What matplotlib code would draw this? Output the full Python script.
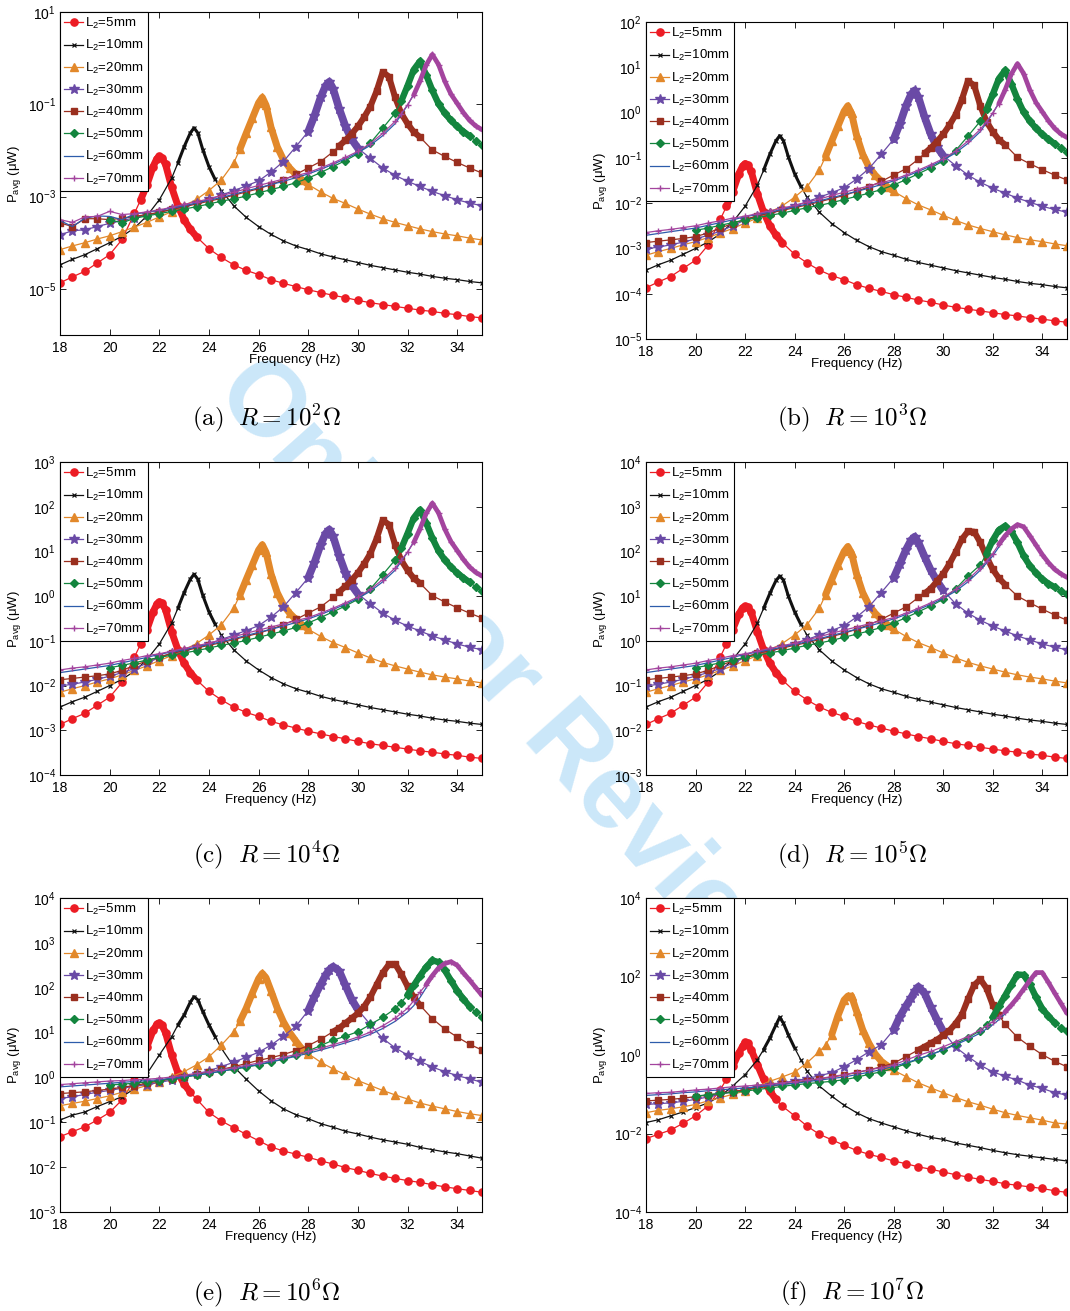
import numpy as np
import matplotlib
matplotlib.use("Agg")
import matplotlib.pyplot as plt
from matplotlib.ticker import FixedLocator, NullLocator, LogFormatterMathtext

plt.rcParams["font.family"] = ["Liberation Sans", "DejaVu Sans"]
plt.rcParams["mathtext.fontset"] = "custom"
plt.rcParams["mathtext.rm"] = "Liberation Sans"
plt.rcParams["mathtext.it"] = "Liberation Sans:italic"
plt.rcParams["mathtext.bf"] = "Liberation Sans:bold"

# frequency samples (Hz) of each L2 curve; denser around its resonance
FREQ_5 = [18, 18.5, 19, 19.5, 20, 20.5, 21, 21.25, 21.5, 21.75, 21.9, 22, 22.1, 22.25, 22.5, 22.75,
          23, 23.25, 23.5, 24, 24.5, 25, 25.5, 26, 26.5, 27, 27.5, 28, 28.5, 29, 29.5, 30, 30.5,
          31, 31.5, 32, 32.5, 33, 33.5, 34, 34.5, 35]
FREQ_10 = [18, 18.5, 19, 19.5, 20, 20.5, 21, 21.5, 22, 22.5, 22.75, 23, 23.25, 23.4, 23.55, 23.75,
           24, 24.25, 24.5, 25, 25.5, 26, 26.5, 27, 27.5, 28, 28.5, 29, 29.5, 30, 30.5, 31, 31.5,
           32, 32.5, 33, 33.5, 34, 34.5, 35]
FREQ_20 = [18, 18.5, 19, 19.5, 20, 20.5, 21, 21.5, 22, 22.5, 23, 23.5, 24, 24.5, 25, 25.25, 25.5,
           25.75, 26, 26.15, 26.3, 26.5, 26.75, 27, 27.25, 27.5, 27.75, 28, 28.5, 29, 29.5, 30,
           30.5, 31, 31.5, 32, 32.5, 33, 33.5, 34, 34.5, 35]
FREQ_30 = [18, 18.5, 19, 19.5, 20, 20.5, 21, 21.5, 22, 22.5, 23, 23.5, 24, 24.5, 25, 25.5, 26,
           26.5, 27, 27.5, 28, 28.25, 28.5, 28.7, 28.85, 29, 29.25, 29.5, 29.75, 30, 30.5, 31,
           31.5, 32, 32.5, 33, 33.5, 34, 34.5, 35]
FREQ_40 = [18, 18.5, 19, 19.5, 20, 20.5, 21, 21.5, 22, 22.5, 23, 23.5, 24, 24.5, 25, 25.5, 26,
           26.5, 27, 27.5, 28, 28.5, 29, 29.25, 29.5, 29.75, 30, 30.25, 30.5, 30.75, 31, 31.25,
           31.5, 31.75, 32, 32.25, 32.5, 33, 33.5, 34, 34.5, 35]
FREQ_50 = [20, 20.5, 21, 21.5, 22, 22.5, 23, 23.5, 24, 24.5, 25, 25.5, 26, 26.5, 27, 27.5, 28,
           28.5, 29, 29.5, 30, 30.5, 31, 31.5, 31.75, 32, 32.25, 32.5, 32.75, 33, 33.25, 33.5,
           33.75, 34, 34.25, 34.5, 34.75, 35]
FREQ_60 = [18, 18.5, 19, 19.5, 20, 20.5, 21, 21.5, 22, 22.5, 23, 23.5, 24, 24.5, 25, 25.5, 26,
           26.5, 27, 27.5, 28, 28.5, 29, 29.5, 30, 30.5, 31, 31.5, 32, 32.25, 32.5, 32.75, 33,
           33.25, 33.5, 33.75, 34, 34.5, 35]
FREQ_70 = [18, 18.5, 19, 19.5, 20, 20.5, 21, 21.5, 22, 22.5, 23, 23.5, 24, 24.5, 25, 25.5, 26,
           26.5, 27, 27.5, 28, 28.5, 29, 29.5, 30, 30.5, 31, 31.5, 31.75, 32, 32.25, 32.5, 32.75,
           33, 33.25, 33.5, 33.75, 34, 34.25, 34.5, 34.75, 35]

# log10 of P_avg (uW)
# (a) R = 1e2
PA_5 = [-4.87, -4.74, -4.62, -4.44, -4.26, -3.93, -3.36, -3.07, -2.75, -2.35, -2.18, -2.13, -2.16, -2.3,
        -2.8, -3.2, -3.5, -3.71, -3.87, -4.13, -4.32, -4.48, -4.6, -4.69, -4.8, -4.88, -4.95, -5.02,
        -5.08, -5.14, -5.19, -5.25, -5.3, -5.34, -5.38, -5.42, -5.46, -5.49, -5.53, -5.56, -5.6, -5.63]
PA_10 = [-4.48, -4.36, -4.26, -4.13, -4.0, -3.86, -3.68, -3.42, -3.07, -2.6, -2.27, -1.92, -1.62, -1.51,
         -1.62, -1.98, -2.35, -2.63, -2.87, -3.2, -3.45, -3.65, -3.82, -3.96, -4.07, -4.15, -4.24,
         -4.31, -4.37, -4.43, -4.49, -4.54, -4.59, -4.64, -4.68, -4.73, -4.77, -4.8, -4.84, -4.87]
PA_20 = [-4.15, -4.07, -4.0, -3.92, -3.85, -3.76, -3.66, -3.56, -3.44, -3.33, -3.2, -3.06, -2.87, -2.64,
         -2.27, -1.97, -1.63, -1.3, -0.97, -0.85, -1.02, -1.5, -1.92, -2.2, -2.38, -2.52, -2.64, -2.74,
         -2.9, -3.04, -3.15, -3.27, -3.38, -3.48, -3.56, -3.63, -3.7, -3.76, -3.81, -3.85, -3.9, -3.94]
PA_30 = [-3.83, -3.74, -3.72, -3.65, -3.58, -3.52, -3.46, -3.4, -3.34, -3.28, -3.22, -3.14, -3.06, -2.97,
         -2.87, -2.77, -2.66, -2.47, -2.24, -1.92, -1.59, -1.25, -0.85, -0.6, -0.51, -0.66, -1.1, -1.48,
         -1.76, -1.95, -2.17, -2.38, -2.54, -2.67, -2.78, -2.89, -2.98, -3.07, -3.14, -3.2]
PA_40 = [-3.57, -3.65, -3.48, -3.48, -3.5, -3.47, -3.43, -3.39, -3.34, -3.28, -3.22, -3.16, -3.1, -3.04,
         -2.97, -2.9, -2.83, -2.74, -2.64, -2.52, -2.38, -2.24, -2.03, -1.9, -1.78, -1.64, -1.48, -1.28,
         -1.05, -0.72, -0.3, -0.4, -0.85, -1.2, -1.42, -1.6, -1.71, -1.99, -2.13, -2.26, -2.38, -2.49]
PA_50 = [-3.5, -3.57, -3.47, -3.42, -3.37, -3.32, -3.27, -3.22, -3.16, -3.1, -3.05, -2.99, -2.92, -2.85,
         -2.78, -2.7, -2.6, -2.48, -2.35, -2.22, -2.07, -1.84, -1.52, -1.19, -0.93, -0.6, -0.25, -0.07,
         -0.36, -0.7, -0.99, -1.19, -1.35, -1.48, -1.59, -1.69, -1.79, -1.88]
PA_60 = [-3.52, -3.65, -3.47, -3.42, -3.43, -3.5, -3.38, -3.34, -3.3, -3.25, -3.2, -3.14, -3.08, -3.02,
         -2.95, -2.88, -2.81, -2.74, -2.67, -2.59, -2.51, -2.41, -2.3, -2.18, -2.05, -1.89, -1.68, -1.42,
         -1.02, -0.78, -0.52, -0.22, 0.04, -0.17, -0.52, -0.8, -1.0, -1.37, -1.57]
PA_70 = [-3.5, -3.56, -3.44, -3.43, -3.32, -3.39, -3.37, -3.33, -3.29, -3.23, -3.17, -3.11, -3.05, -2.98,
         -2.91, -2.83, -2.76, -2.69, -2.62, -2.55, -2.48, -2.38, -2.27, -2.15, -2.02, -1.85, -1.63, -1.37,
         -1.2, -1.01, -0.8, -0.5, -0.15, 0.08, -0.14, -0.5, -0.78, -0.98, -1.18, -1.35, -1.47, -1.55]

# (b) R = 1e3
PB_5 = [-3.87, -3.74, -3.62, -3.44, -3.26, -2.93, -2.36, -2.07, -1.75, -1.35, -1.18, -1.13, -1.16, -1.3,
        -1.8, -2.2, -2.5, -2.71, -2.87, -3.13, -3.32, -3.48, -3.6, -3.69, -3.8, -3.88, -3.95, -4.02,
        -4.08, -4.14, -4.19, -4.25, -4.3, -4.34, -4.38, -4.42, -4.46, -4.49, -4.53, -4.56, -4.6, -4.63]
PB_10 = [-3.48, -3.36, -3.26, -3.13, -3.0, -2.86, -2.68, -2.42, -2.07, -1.6, -1.27, -0.92, -0.62, -0.51,
         -0.62, -0.98, -1.35, -1.63, -1.87, -2.2, -2.45, -2.65, -2.82, -2.96, -3.07, -3.15, -3.24,
         -3.31, -3.37, -3.43, -3.49, -3.54, -3.59, -3.64, -3.68, -3.73, -3.77, -3.8, -3.84, -3.87]
PB_20 = [-3.15, -3.07, -3.0, -2.92, -2.85, -2.76, -2.66, -2.56, -2.44, -2.33, -2.2, -2.06, -1.87, -1.64,
         -1.27, -0.97, -0.63, -0.3, 0.03, 0.15, -0.02, -0.5, -0.92, -1.2, -1.38, -1.52, -1.64, -1.74,
         -1.9, -2.04, -2.15, -2.27, -2.38, -2.48, -2.56, -2.63, -2.7, -2.76, -2.81, -2.85, -2.9, -2.94]
PB_30 = [-3.01, -2.97, -2.92, -2.86, -2.79, -2.71, -2.62, -2.5, -2.37, -2.28, -2.22, -2.14, -2.06, -1.97,
         -1.87, -1.77, -1.66, -1.47, -1.24, -0.92, -0.59, -0.25, 0.15, 0.4, 0.49, 0.34, -0.1, -0.48,
         -0.76, -0.95, -1.17, -1.38, -1.54, -1.67, -1.78, -1.89, -1.98, -2.07, -2.14, -2.2]
PB_40 = [-2.87, -2.84, -2.81, -2.78, -2.74, -2.66, -2.55, -2.45, -2.36, -2.28, -2.22, -2.16, -2.1, -2.04,
         -1.97, -1.9, -1.83, -1.74, -1.64, -1.52, -1.38, -1.24, -1.03, -0.9, -0.78, -0.64, -0.48, -0.28,
         -0.05, 0.28, 0.7, 0.6, 0.15, -0.2, -0.42, -0.6, -0.71, -0.99, -1.13, -1.26, -1.38, -1.49]
PB_50 = [-2.6, -2.55, -2.49, -2.43, -2.37, -2.32, -2.27, -2.22, -2.16, -2.1, -2.05, -1.99, -1.92, -1.85,
         -1.78, -1.7, -1.6, -1.48, -1.35, -1.22, -1.07, -0.84, -0.52, -0.19, 0.07, 0.4, 0.75, 0.93,
         0.64, 0.3, 0.01, -0.19, -0.35, -0.48, -0.59, -0.69, -0.79, -0.88]
PB_60 = [-2.71, -2.67, -2.63, -2.59, -2.55, -2.49, -2.43, -2.37, -2.3, -2.25, -2.2, -2.14, -2.08, -2.02,
         -1.95, -1.88, -1.81, -1.74, -1.67, -1.59, -1.51, -1.41, -1.3, -1.18, -1.05, -0.89, -0.68, -0.42,
         -0.02, 0.22, 0.48, 0.78, 1.04, 0.83, 0.48, 0.2, 0.0, -0.37, -0.57]
PB_70 = [-2.65, -2.61, -2.58, -2.54, -2.5, -2.44, -2.39, -2.33, -2.29, -2.23, -2.17, -2.11, -2.05, -1.98,
         -1.91, -1.83, -1.76, -1.69, -1.62, -1.55, -1.48, -1.38, -1.27, -1.15, -1.02, -0.85, -0.63, -0.37,
         -0.2, -0.01, 0.2, 0.5, 0.85, 1.08, 0.86, 0.5, 0.22, 0.02, -0.18, -0.35, -0.47, -0.55]

# (c) R = 1e4
PC_5 = [-2.87, -2.74, -2.62, -2.44, -2.26, -1.93, -1.36, -1.07, -0.75, -0.35, -0.18, -0.13, -0.16, -0.3,
        -0.8, -1.2, -1.5, -1.71, -1.87, -2.13, -2.32, -2.48, -2.6, -2.69, -2.8, -2.88, -2.95, -3.02,
        -3.08, -3.14, -3.19, -3.25, -3.3, -3.34, -3.38, -3.42, -3.46, -3.49, -3.53, -3.56, -3.6, -3.63]
PC_10 = [-2.48, -2.36, -2.26, -2.13, -2.0, -1.86, -1.68, -1.42, -1.07, -0.6, -0.27, 0.08, 0.38, 0.49,
         0.38, 0.02, -0.35, -0.63, -0.87, -1.2, -1.45, -1.65, -1.82, -1.96, -2.07, -2.15, -2.24,
         -2.31, -2.37, -2.43, -2.49, -2.54, -2.59, -2.64, -2.68, -2.73, -2.77, -2.8, -2.84, -2.87]
PC_20 = [-2.15, -2.07, -2.0, -1.92, -1.85, -1.76, -1.66, -1.56, -1.44, -1.33, -1.2, -1.06, -0.87, -0.64,
         -0.27, 0.03, 0.37, 0.7, 1.03, 1.15, 0.98, 0.5, 0.08, -0.2, -0.38, -0.52, -0.64, -0.74,
         -0.9, -1.04, -1.15, -1.27, -1.38, -1.48, -1.56, -1.63, -1.7, -1.76, -1.81, -1.85, -1.9, -1.94]
PC_30 = [-2.01, -1.97, -1.92, -1.86, -1.79, -1.71, -1.62, -1.5, -1.37, -1.28, -1.22, -1.14, -1.06, -0.97,
         -0.87, -0.77, -0.66, -0.47, -0.24, 0.08, 0.41, 0.75, 1.15, 1.4, 1.49, 1.34, 0.9, 0.52,
         0.24, 0.05, -0.17, -0.38, -0.54, -0.67, -0.78, -0.89, -0.98, -1.07, -1.14, -1.2]
PC_40 = [-1.87, -1.84, -1.81, -1.78, -1.74, -1.66, -1.55, -1.45, -1.36, -1.28, -1.22, -1.16, -1.1, -1.04,
         -0.97, -0.9, -0.83, -0.74, -0.64, -0.52, -0.38, -0.24, -0.03, 0.1, 0.22, 0.36, 0.52, 0.72,
         0.95, 1.28, 1.7, 1.6, 1.15, 0.8, 0.58, 0.4, 0.29, 0.01, -0.13, -0.26, -0.38, -0.49]
PC_50 = [-1.6, -1.55, -1.49, -1.43, -1.37, -1.32, -1.27, -1.22, -1.16, -1.1, -1.05, -0.99, -0.92, -0.85,
         -0.78, -0.7, -0.6, -0.48, -0.35, -0.22, -0.07, 0.16, 0.48, 0.81, 1.07, 1.4, 1.75, 1.93,
         1.64, 1.3, 1.01, 0.81, 0.65, 0.52, 0.41, 0.31, 0.21, 0.12]
PC_60 = [-1.71, -1.67, -1.63, -1.59, -1.55, -1.49, -1.43, -1.37, -1.3, -1.25, -1.2, -1.14, -1.08, -1.02,
         -0.95, -0.88, -0.81, -0.74, -0.67, -0.59, -0.51, -0.41, -0.3, -0.18, -0.05, 0.11, 0.32, 0.58,
         0.98, 1.22, 1.48, 1.78, 2.04, 1.83, 1.48, 1.2, 1.0, 0.63, 0.43]
PC_70 = [-1.65, -1.61, -1.58, -1.54, -1.5, -1.44, -1.39, -1.33, -1.29, -1.23, -1.17, -1.11, -1.05, -0.98,
         -0.91, -0.83, -0.76, -0.69, -0.62, -0.55, -0.48, -0.38, -0.27, -0.15, -0.02, 0.15, 0.37, 0.63,
         0.8, 0.99, 1.2, 1.5, 1.85, 2.08, 1.86, 1.5, 1.22, 1.02, 0.82, 0.65, 0.53, 0.45]

# (d) R = 1e5
PD_5 = [-1.87, -1.74, -1.62, -1.44, -1.26, -0.93, -0.36, -0.07, 0.25, 0.6, 0.74, 0.77, 0.75, 0.64,
        0.2, -0.2, -0.5, -0.71, -0.87, -1.13, -1.32, -1.48, -1.6, -1.69, -1.8, -1.88, -1.95, -2.02,
        -2.08, -2.14, -2.19, -2.25, -2.3, -2.34, -2.38, -2.42, -2.46, -2.49, -2.53, -2.56, -2.6, -2.63]
PD_10 = [-1.48, -1.36, -1.26, -1.13, -1.0, -0.86, -0.68, -0.42, -0.07, 0.4, 0.73, 1.06, 1.35, 1.45,
         1.36, 1.0, 0.65, 0.37, 0.13, -0.2, -0.45, -0.65, -0.82, -0.96, -1.07, -1.15, -1.24,
         -1.31, -1.37, -1.43, -1.49, -1.54, -1.59, -1.64, -1.68, -1.73, -1.77, -1.8, -1.84, -1.87]
PD_20 = [-1.15, -1.07, -1.0, -0.92, -0.85, -0.76, -0.66, -0.56, -0.44, -0.33, -0.2, -0.06, 0.13, 0.36,
         0.73, 1.03, 1.37, 1.7, 2.0, 2.11, 1.96, 1.5, 1.08, 0.8, 0.62, 0.48, 0.36, 0.26,
         0.1, -0.04, -0.15, -0.27, -0.38, -0.48, -0.56, -0.63, -0.7, -0.76, -0.81, -0.85, -0.9, -0.94]
PD_30 = [-1.01, -0.97, -0.92, -0.86, -0.79, -0.71, -0.62, -0.5, -0.37, -0.28, -0.22, -0.14, -0.06, 0.03,
         0.13, 0.23, 0.34, 0.53, 0.76, 1.08, 1.41, 1.72, 2.04, 2.25, 2.33, 2.2, 1.88, 1.58,
         1.34, 1.13, 0.83, 0.62, 0.46, 0.33, 0.22, 0.11, 0.02, -0.07, -0.14, -0.2]
PD_40 = [-0.87, -0.84, -0.81, -0.78, -0.74, -0.66, -0.55, -0.45, -0.36, -0.28, -0.22, -0.16, -0.1, -0.04,
         0.03, 0.1, 0.17, 0.26, 0.36, 0.48, 0.62, 0.76, 0.97, 1.06, 1.17, 1.33, 1.5, 1.72,
         1.98, 2.27, 2.45, 2.44, 2.2, 1.88, 1.6, 1.4, 1.26, 1.0, 0.85, 0.71, 0.58, 0.46]
PD_50 = [-0.6, -0.55, -0.49, -0.43, -0.37, -0.32, -0.27, -0.22, -0.16, -0.1, -0.05, 0.01, 0.08, 0.15,
         0.22, 0.3, 0.4, 0.52, 0.65, 0.78, 0.93, 1.16, 1.45, 1.7, 1.95, 2.25, 2.48, 2.57,
         2.45, 2.2, 1.9, 1.68, 1.52, 1.38, 1.28, 1.2, 1.12, 1.05]
PD_60 = [-0.71, -0.67, -0.63, -0.59, -0.55, -0.49, -0.43, -0.37, -0.3, -0.25, -0.2, -0.14, -0.08, -0.02,
         0.05, 0.12, 0.19, 0.26, 0.33, 0.41, 0.49, 0.59, 0.7, 0.82, 0.95, 1.11, 1.32, 1.58,
         1.9, 2.1, 2.3, 2.47, 2.58, 2.54, 2.35, 2.13, 1.93, 1.6, 1.42]
PD_70 = [-0.65, -0.61, -0.58, -0.54, -0.5, -0.44, -0.39, -0.33, -0.29, -0.23, -0.17, -0.11, -0.05, 0.02,
         0.09, 0.17, 0.24, 0.31, 0.38, 0.45, 0.52, 0.62, 0.73, 0.85, 0.98, 1.15, 1.37, 1.63,
         1.78, 1.95, 2.16, 2.35, 2.5, 2.6, 2.55, 2.35, 2.14, 1.93, 1.75, 1.6, 1.5, 1.42]

# (e) R = 1e6
PE_5 = [-1.32, -1.21, -1.1, -0.95, -0.78, -0.5, -0.05, 0.28, 0.68, 1.05, 1.18, 1.21, 1.17, 1.0,
        0.5, 0.1, -0.15, -0.33, -0.48, -0.78, -0.97, -1.12, -1.27, -1.41, -1.55, -1.64, -1.71, -1.78,
        -1.86, -1.93, -2.01, -2.07, -2.14, -2.2, -2.25, -2.3, -2.34, -2.39, -2.44, -2.48, -2.52, -2.56]
PE_10 = [-0.95, -0.84, -0.77, -0.65, -0.54, -0.43, -0.25, 0.08, 0.5, 0.91, 1.17, 1.39, 1.68, 1.8,
         1.73, 1.47, 1.17, 0.91, 0.65, 0.24, -0.04, -0.3, -0.52, -0.7, -0.83, -0.92, -1.03,
         -1.11, -1.2, -1.26, -1.33, -1.39, -1.44, -1.49, -1.56, -1.61, -1.66, -1.7, -1.75, -1.8]
PE_20 = [-0.63, -0.58, -0.53, -0.47, -0.41, -0.33, -0.26, -0.18, -0.1, 0.02, 0.13, 0.28, 0.46, 0.72,
         1.02, 1.25, 1.54, 1.88, 2.2, 2.32, 2.22, 1.93, 1.55, 1.24, 1.0, 0.81, 0.63, 0.53,
         0.34, 0.19, 0.06, -0.07, -0.18, -0.29, -0.39, -0.48, -0.57, -0.64, -0.7, -0.76, -0.81, -0.85]
PE_30 = [-0.47, -0.43, -0.38, -0.33, -0.29, -0.24, -0.2, -0.16, -0.11, -0.06, 0.0, 0.07, 0.15, 0.24,
         0.34, 0.45, 0.56, 0.72, 0.92, 1.14, 1.49, 1.8, 2.07, 2.28, 2.4, 2.47, 2.37, 2.05,
         1.74, 1.51, 1.18, 0.87, 0.66, 0.5, 0.36, 0.23, 0.13, 0.04, -0.03, -0.11]
PE_40 = [-0.36, -0.34, -0.32, -0.29, -0.26, -0.22, -0.18, -0.13, -0.08, -0.03, 0.02, 0.07, 0.12, 0.18,
         0.24, 0.31, 0.38, 0.44, 0.51, 0.6, 0.71, 0.85, 1.02, 1.1, 1.21, 1.32, 1.43, 1.58,
         1.79, 2.06, 2.33, 2.52, 2.53, 2.3, 2.03, 1.79, 1.61, 1.31, 1.08, 0.9, 0.74, 0.61]
PE_50 = [-0.17, -0.15, -0.13, -0.1, -0.07, -0.03, 0.01, 0.05, 0.09, 0.14, 0.18, 0.23, 0.28, 0.34,
         0.41, 0.49, 0.59, 0.71, 0.83, 0.92, 1.02, 1.18, 1.34, 1.53, 1.67, 1.84, 2.05, 2.26,
         2.46, 2.61, 2.57, 2.39, 2.16, 1.93, 1.75, 1.58, 1.45, 1.34]
PE_60 = [-0.21, -0.19, -0.17, -0.15, -0.13, -0.11, -0.09, -0.07, -0.05, -0.02, 0.02, 0.05, 0.09, 0.14,
         0.19, 0.24, 0.29, 0.35, 0.41, 0.47, 0.54, 0.61, 0.69, 0.77, 0.86, 0.96, 1.09, 1.25,
         1.46, 1.6, 1.78, 2.0, 2.24, 2.42, 2.53, 2.56, 2.5, 2.2, 1.82]
PE_70 = [-0.16, -0.14, -0.12, -0.1, -0.08, -0.07, -0.05, -0.04, -0.02, 0.01, 0.05, 0.09, 0.13, 0.17,
         0.22, 0.27, 0.32, 0.38, 0.45, 0.51, 0.58, 0.65, 0.73, 0.81, 0.9, 1.01, 1.15, 1.32,
         1.43, 1.54, 1.71, 1.9, 2.07, 2.27, 2.44, 2.54, 2.58, 2.5, 2.33, 2.17, 2.0, 1.83]

# (f) R = 1e7
PF_5 = [-2.13, -2.02, -1.91, -1.74, -1.55, -1.3, -0.88, -0.62, -0.29, 0.05, 0.22, 0.32, 0.3, 0.13,
        -0.25, -0.62, -0.92, -1.13, -1.3, -1.55, -1.81, -2.02, -2.16, -2.3, -2.43, -2.53, -2.61, -2.7,
        -2.77, -2.85, -2.91, -2.98, -3.05, -3.11, -3.17, -3.22, -3.28, -3.32, -3.36, -3.4, -3.46, -3.5]
PF_10 = [-1.72, -1.65, -1.55, -1.45, -1.34, -1.22, -1.05, -0.79, -0.5, -0.12, 0.14, 0.43, 0.77, 0.96,
         0.81, 0.51, 0.18, -0.12, -0.41, -0.79, -1.05, -1.28, -1.47, -1.62, -1.73, -1.83, -1.93,
         -2.02, -2.1, -2.15, -2.24, -2.3, -2.36, -2.43, -2.49, -2.54, -2.58, -2.62, -2.66, -2.7]
PF_20 = [-1.47, -1.41, -1.37, -1.32, -1.26, -1.17, -1.09, -1.0, -0.92, -0.8, -0.67, -0.56, -0.44, -0.2,
         0.09, 0.25, 0.52, 1.0, 1.4, 1.5, 1.5, 1.12, 0.64, 0.3, 0.03, -0.16, -0.28, -0.39,
         -0.55, -0.71, -0.84, -0.96, -1.08, -1.19, -1.28, -1.38, -1.47, -1.54, -1.6, -1.66, -1.73, -1.76]
PF_30 = [-1.26, -1.24, -1.22, -1.18, -1.13, -1.07, -1.0, -0.94, -0.88, -0.82, -0.76, -0.71, -0.66, -0.6,
         -0.53, -0.45, -0.3, -0.12, 0.08, 0.26, 0.64, 0.98, 1.25, 1.45, 1.62, 1.74, 1.57, 1.22,
         0.9, 0.6, 0.2, -0.04, -0.26, -0.43, -0.54, -0.64, -0.77, -0.85, -0.96, -1.02]
PF_40 = [-1.17, -1.15, -1.13, -1.1, -1.06, -1.02, -0.98, -0.93, -0.89, -0.84, -0.8, -0.75, -0.71, -0.66,
         -0.61, -0.56, -0.51, -0.45, -0.38, -0.3, -0.21, -0.04, 0.13, 0.21, 0.3, 0.39, 0.5, 0.62,
         0.8, 1.02, 1.42, 1.78, 1.93, 1.7, 1.28, 1.02, 0.78, 0.45, 0.22, 0.01, -0.16, -0.3]
PF_50 = [-1.05, -1.01, -0.98, -0.95, -0.92, -0.88, -0.84, -0.8, -0.76, -0.73, -0.7, -0.67, -0.63, -0.57,
         -0.49, -0.43, -0.34, -0.22, -0.11, 0.01, 0.13, 0.29, 0.44, 0.62, 0.76, 0.96, 1.24, 1.51,
         1.79, 2.05, 2.04, 1.8, 1.47, 1.18, 0.99, 0.82, 0.7, 0.6]
PF_60 = [-1.03, -1.01, -0.99, -0.96, -0.94, -0.91, -0.89, -0.86, -0.84, -0.81, -0.78, -0.75, -0.72, -0.68,
         -0.64, -0.6, -0.56, -0.5, -0.44, -0.37, -0.29, -0.2, -0.1, 0.01, 0.13, 0.26, 0.4, 0.56,
         0.77, 0.9, 1.05, 1.22, 1.42, 1.64, 1.85, 2.04, 2.1, 1.6, 1.06]
PF_70 = [-0.98, -0.96, -0.95, -0.92, -0.89, -0.87, -0.84, -0.81, -0.79, -0.77, -0.74, -0.71, -0.68, -0.64,
         -0.6, -0.55, -0.5, -0.44, -0.38, -0.32, -0.25, -0.13, -0.01, 0.09, 0.21, 0.34, 0.47, 0.64,
         0.74, 0.85, 0.96, 1.1, 1.27, 1.46, 1.68, 1.9, 2.1, 2.1, 1.85, 1.58, 1.32, 1.06]

LABELS = ["L$_2$=5mm", "L$_2$=10mm", "L$_2$=20mm", "L$_2$=30mm",
          "L$_2$=40mm", "L$_2$=50mm", "L$_2$=60mm", "L$_2$=70mm"]
FREQS = [FREQ_5, FREQ_10, FREQ_20, FREQ_30, FREQ_40, FREQ_50, FREQ_60, FREQ_70]
PANEL_DATA = {
    "a": [PA_5, PA_10, PA_20, PA_30, PA_40, PA_50, PA_60, PA_70],
    "b": [PB_5, PB_10, PB_20, PB_30, PB_40, PB_50, PB_60, PB_70],
    "c": [PC_5, PC_10, PC_20, PC_30, PC_40, PC_50, PC_60, PC_70],
    "d": [PD_5, PD_10, PD_20, PD_30, PD_40, PD_50, PD_60, PD_70],
    "e": [PE_5, PE_10, PE_20, PE_30, PE_40, PE_50, PE_60, PE_70],
    "f": [PF_5, PF_10, PF_20, PF_30, PF_40, PF_50, PF_60, PF_70],
}
R_EXP = {"a": 2, "b": 3, "c": 4, "d": 5, "e": 6, "f": 7}
Y_DECADES = {"a": (-6, 1), "b": (-5, 2), "c": (-4, 3), "d": (-3, 4), "e": (-3, 4), "f": (-4, 4)}
Y_TICK_EXP = {"a": [-5, -3, -1, 1], "b": list(range(-5, 3)), "c": list(range(-4, 4)),
              "d": list(range(-3, 5)), "e": list(range(-3, 5)), "f": [-4, -2, 0, 2, 4]}

# styles
STYLES = [
    dict(color="#ec1c24", marker="o", ms=5.2, mec="#ec1c24", mfc="#ec1c24"),
    dict(color="#111111", marker="x", ms=3.2, mew=0.9),
    dict(color="#e2882a", marker="^", ms=5.6, mec="#e2882a", mfc="#e2882a"),
    dict(color="#6a4aa6", marker="*", ms=7.5, mec="#6a4aa6", mfc="#6a4aa6"),
    dict(color="#9a2f1f", marker="s", ms=4.4, mec="#9a2f1f", mfc="#9a2f1f"),
    dict(color="#13853e", marker="D", ms=4.2, mec="#13853e", mfc="#13853e"),
    dict(color="#2d5cab", marker=None),
    dict(color="#a3449e", marker="+", ms=5.0, mew=1.0),
]
# width (pt) of the crowded-marker band drawn near each resonance, and its span (Hz)
BAND_W = [5.0, 2.2, 5.0, 5.5, 4.4, 4.6, 0, 3.4]
BAND_SPAN = {
    "abcd": [(21.25, 23.5), (22.75, 24.25), (25.25, 28.0), (28.0, 30.0), (29.25, 32.5),
             (31.75, 34.5), None, (32.25, 35.0)],
    "e": [(21.25, 23.25), (22.75, 24.25), (25.25, 28.0), (28.0, 30.0), (29.0, 32.5),
          (32.0, 34.5), None, (32.75, 35.0)],
    "f": [(21.25, 23.25), (22.75, 24.0), (25.5, 27.75), (28.0, 30.0), (29.0, 32.25),
          (32.0, 34.5), None, (32.5, 35.0)],
}

W, H = 1070, 1311
# axes boxes in pixels: (left, top, right, bottom)
BOXES = {"a": (60, 12, 482, 335), "b": (646, 22, 1067, 339),
         "c": (60, 462, 482, 775), "d": (646, 462, 1067, 775),
         "e": (60, 898, 482, 1212), "f": (646, 898, 1067, 1212)}
CAPTIONS = {"a": (267, 418), "b": (852, 418), "c": (267, 855), "d": (852, 855),
            "e": (267, 1293), "f": (852, 1293)}

fig = plt.figure(figsize=(W / 100, H / 100), dpi=100)

# review watermark, sitting behind the opaque panels
fig.text(212 / W, 1 - 392 / H, "Only For Review", fontsize=76, fontweight="bold",
         color="#cbe7f9", rotation=-48.3, rotation_mode="anchor", ha="left",
         va="baseline", zorder=-5)

for key in ["a", "b", "c", "d", "e", "f"]:
    l, t, r, b = BOXES[key]
    ax = fig.add_axes([l / W, 1 - b / H, (r - l) / W, (b - t) / H])
    spans = BAND_SPAN[key] if key in BAND_SPAN else BAND_SPAN["abcd"]
    for freq, logp, lab, st, bw, span in zip(FREQS, PANEL_DATA[key], LABELS, STYLES,
                                              BAND_W, spans):
        x = np.array(freq, dtype=float)
        y = 10.0 ** np.array(logp)
        ax.plot(x, y, lw=0.9, label=lab, **st)
        if span is not None:
            m = (x >= span[0]) & (x <= span[1])
            ax.plot(x[m], y[m], color=st["color"], lw=bw, solid_capstyle="round",
                    solid_joinstyle="round", label="_nolegend_")
    ax.set_yscale("log")
    lo, hi = Y_DECADES[key]
    ax.set_ylim(10.0 ** lo, 10.0 ** hi)
    ax.set_xlim(18, 35)
    ax.set_xticks(range(18, 35, 2))
    ax.yaxis.set_major_locator(FixedLocator([10.0 ** e for e in Y_TICK_EXP[key]]))
    ax.yaxis.set_major_formatter(LogFormatterMathtext())
    ax.yaxis.set_minor_locator(NullLocator())
    ax.tick_params(direction="in", top=True, right=True, length=4.5, width=0.6,
                   labelsize=10)
    ax.tick_params(axis="x", pad=4.5)
    ax.tick_params(axis="y", pad=3)
    for sp in ax.spines.values():
        sp.set_linewidth(0.8)
    ax.set_xlabel("Frequency (Hz)", fontsize=9.5)
    ax.set_ylabel("P$_{\\mathrm{avg}}$ (\u03bcW)", fontsize=9.5)
    ax.xaxis.set_label_coords(0.555 if key == "a" else 0.5, -0.06)
    ax.yaxis.set_label_coords(-0.088, 0.5)
    leg = ax.legend(loc="upper left", bbox_to_anchor=(0, 1), borderaxespad=0,
                    fancybox=False, edgecolor="black", framealpha=1, fontsize=9.5,
                    handlelength=1.45, handletextpad=0.15, labelspacing=0.54,
                    borderpad=0.3)
    leg.get_frame().set_linewidth(0.8)
    cx, cy = CAPTIONS[key]
    fig.text(cx / W, 1 - cy / H,
             "$\\mathrm{(%s)}\\ \\ R=10^{%d}\\Omega$" % (key, R_EXP[key]),
             math_fontfamily="cm", fontsize=18, ha="center", va="center")

fig.savefig("out.png", dpi=100)
